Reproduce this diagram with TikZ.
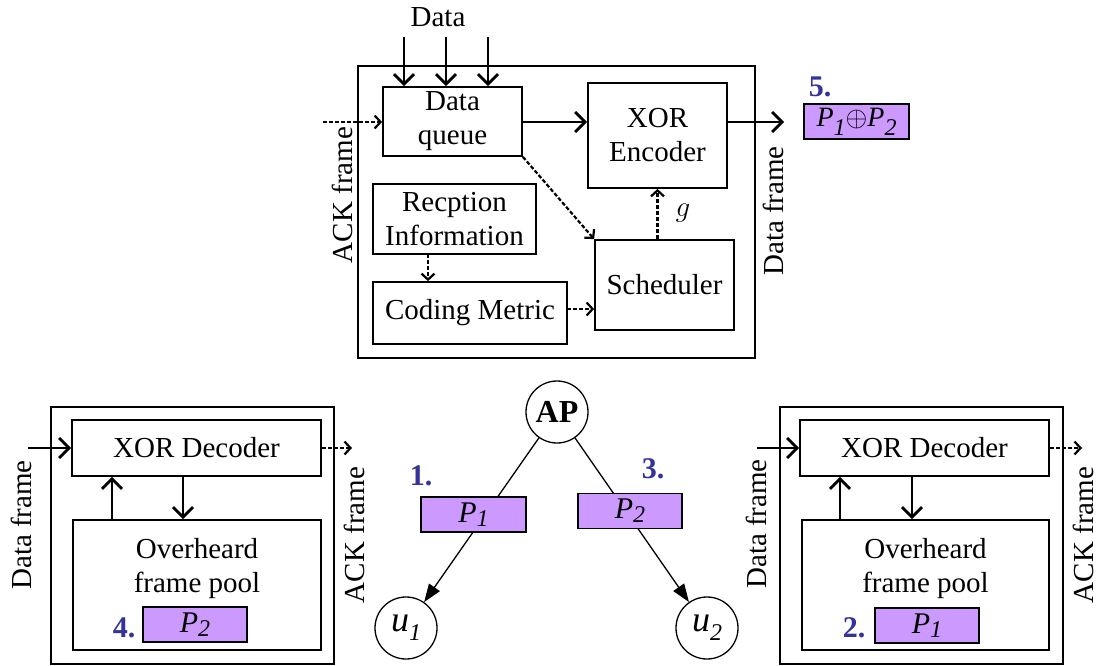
\RequirePackage{fix-cm}
\documentclass[tikz,border=0pt]{standalone}
\usepackage{fontspec}
\setmainfont{Liberation Serif}
\usepackage{graphicx}
\usetikzlibrary{arrows.meta}
\definecolor{purp}{RGB}{204,153,255}
\definecolor{numblue}{RGB}{51,51,153}
\newcommand\txtsz{\fontsize{29}{34}\selectfont}
\newcommand\lowsub[2]{\raisebox{-#1}{\fontsize{24}{24}\selectfont\textit{#2}}}
\begin{document}
\begin{tikzpicture}[x=1pt,y=-1pt,
 box/.style={draw, line width=1.8pt, inner sep=0pt, align=center, font=\txtsz},
 frame/.style={draw, line width=2pt},
 sarr/.style={line width=2.8pt, -{Straight Barb[length=10pt,width=20pt]}},
 darr/.style={line width=2.2pt, dash pattern=on 4pt off 2pt, -{Straight Barb[length=6pt,width=13pt]}},
 lbl/.style={font=\txtsz, inner sep=0pt, align=center},
 vlbl/.style={lbl, rotate=90},
 num/.style={font=\fontsize{30}{30}\selectfont\bfseries, text=numblue, inner sep=0pt},
 pkt/.style={draw, fill=purp, line width=1.3pt, inner sep=0pt, font=\fontsize{30}{30}\selectfont, minimum width=104pt, minimum height=35pt},
 circ/.style={draw, circle, line width=1.3pt, minimum size=62pt, inner sep=0pt},
 tree/.style={line width=1.3pt, -{Triangle[length=18pt,width=13pt]}}]
\useasboundingbox (0,0) rectangle (1101,666);
% ---------- top block ----------
\draw[frame] (358,66) rectangle (755,358);
\node[box, minimum width=139pt, minimum height=69pt] (dq) at (452.5,121.5) {Data\\queue};
\node[box, minimum width=139pt, minimum height=105pt] (enc) at (657.5,135.5) {XOR\\Encoder};
\node[box, minimum width=163pt, minimum height=70pt] (rec) at (454.5,219) {Recption\\Information};
\node[box, minimum width=194pt, minimum height=62pt] (cm) at (470,313) {Coding Metric};
\node[box, minimum width=139pt, minimum height=90pt] (sch) at (664.5,285) {Scheduler};
\node[lbl] (data) at (438,17) {Data};
\coordinate (d1) at (404,37);
\coordinate (d2) at (446,37);
\coordinate (d3) at (488,37);
\foreach \c in {d1,d2,d3} \draw[sarr] (\c) -- (\c |- dq.north);
\coordinate (ackin) at (323,122);
\draw[darr] (ackin) -- (ackin -| dq.west);
\node[vlbl] (ackT) at (342,195) {ACK frame};
\draw[sarr] (ackin -| dq.east) -- (ackin -| enc.west);
\coordinate (dout) at (784,122);
\draw[sarr] (dout -| enc.east) -- (dout);
\node[vlbl] (dataT) at (773,211) {Data frame};
\draw[darr] (dq.south east) -- (sch.north west);
\draw[darr] (enc.south |- sch.north) -- (enc.south);
\node[font=\fontsize{29}{29}\selectfont, inner sep=0pt] (g) at (683,213) {$g$};
\coordinate (rc) at (428,254);
\draw[darr] (rc) -- (rc |- cm.north);
\coordinate (cmo) at (567,309);
\draw[darr] (cmo) -- (cmo -| sch.west);
\node[num] (n5) at (820,87) {5.};
\node[pkt, minimum width=105pt, font=\fontsize{28}{28}\selectfont] (p5) at (856.5,121.5)
  {\textit{P}\lowsub{9pt}{1}$\oplus$\textit{P}\lowsub{9pt}{2}};
% ---------- bottom left ----------
\draw[frame] (51,407) rectangle (334,664);
\node[box, minimum width=249pt, minimum height=56pt] (decL) at (196.5,448) {XOR Decoder};
\node[box, minimum width=248pt, minimum height=130pt] (poolL) at (197,585) {};
\node[lbl, anchor=north] (ohL) at (197,538) {Overheard\\frame pool};
\node[pkt] (pL) at (195,624.5) {\textit{P}\lowsub{4pt}{2}};
\node[num] (n4) at (124,628) {4.};
\coordinate (dinL) at (28,448);
\draw[sarr] (dinL) -- (decL.west);
\coordinate (aoL) at (352,448);
\draw[darr] (decL.east) -- (aoL);
\node[vlbl] (dfL) at (21.5,525) {Data frame};
\node[vlbl] (afL) at (354,535) {ACK frame};
\coordinate (uL) at (112,520);
\draw[sarr] (uL) -- (uL |- decL.south);
\coordinate (dL) at (183,476);
\draw[sarr] (dL) -- (dL |- poolL.north);
% ---------- bottom right ----------
\draw[frame] (780,407) rectangle (1063,664);
\node[box, minimum width=249pt, minimum height=56pt] (decR) at (924.5,448) {XOR Decoder};
\node[box, minimum width=247pt, minimum height=130pt] (poolR) at (925.5,585) {};
\node[lbl, anchor=north] (ohR) at (925.5,538) {Overheard\\frame pool};
\node[pkt] (pR) at (927,625.5) {\textit{P}\lowsub{4pt}{1}};
\node[num] (n2) at (854,628) {2.};
\coordinate (dinR) at (757,448);
\draw[sarr] (dinR) -- (decR.west);
\coordinate (aoR) at (1082,448);
\draw[darr] (decR.east) -- (aoR);
\node[vlbl] (dfR) at (756,524) {Data frame};
\node[vlbl] (afR) at (1083,535) {ACK frame};
\coordinate (uR) at (840,520);
\draw[sarr] (uR) -- (uR |- decR.south);
\coordinate (dR) at (912,476);
\draw[sarr] (dR) -- (dR |- poolR.north);
% ---------- middle tree ----------
\node[circ, font=\fontsize{32}{32}\selectfont\bfseries] (AP) at (557,412) {AP};
\node[circ, font=\fontsize{36}{36}\selectfont] (u1) at (406,628) {\textit{u}\lowsub{9pt}{1}};
\node[circ, font=\fontsize{36}{36}\selectfont] (u2) at (707,628) {\textit{u}\lowsub{9pt}{2}};
\draw[tree] (AP) -- (u1);
\draw[tree] (AP) -- (u2);
\node[pkt, minimum width=105pt] (p1) at (473.5,514.5) {\textit{P}\lowsub{4pt}{1}};
\node[pkt] (p2) at (630,511) {\textit{P}\lowsub{4pt}{2}};
\node[num] (n1) at (421,476) {1.};
\node[num] (n3) at (653,469) {3.};
\end{tikzpicture}
\end{document}
